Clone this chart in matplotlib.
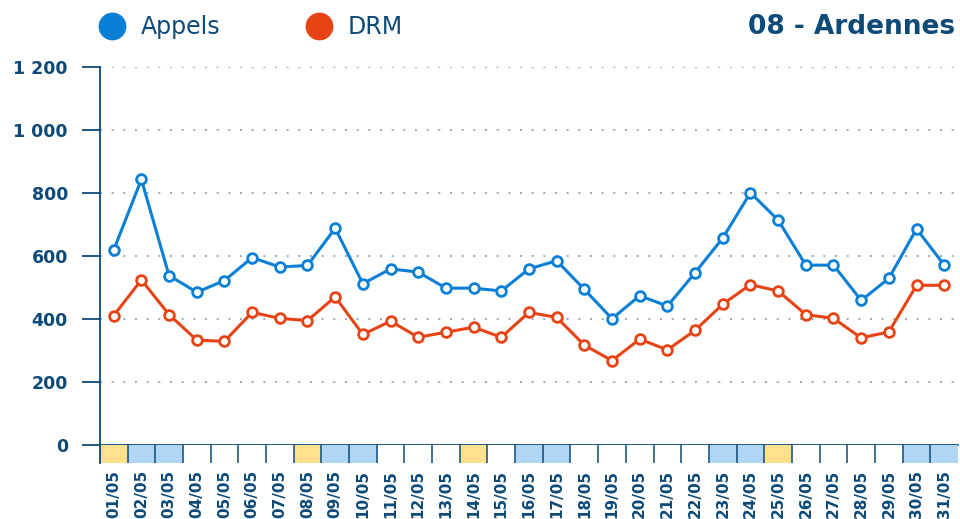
import matplotlib.pyplot as plt
from matplotlib.lines import Line2D

# Données
jours = ['01/05', '02/05', '03/05', '04/05', '05/05', '06/05', '07/05', '08/05', '09/05', '10/05',
         '11/05', '12/05', '13/05', '14/05', '15/05', '16/05', '17/05', '18/05', '19/05', '20/05',
         '21/05', '22/05', '23/05', '24/05', '25/05', '26/05', '27/05', '28/05', '29/05', '30/05', '31/05']
appels = [619, 843, 538, 485, 522, 595, 565, 570, 688, 512,
          559, 549, 498, 498, 489, 559, 585, 494, 401, 474,
          441, 547, 657, 801, 714, 571, 571, 459, 529, 686, 571]
drm = [411, 524, 414, 333, 329, 421, 402, 395, 470, 351,
       393, 342, 358, 374, 342, 421, 405, 317, 268, 336,
       302, 364, 447, 509, 489, 414, 402, 340, 359, 507, 507]
# type de jour : 'f' = férié, 'w' = week-end, '' = normal
type_jour = ['f', 'w', 'w', '', '', '', '', 'f', 'w', 'w',
             '', '', '', 'f', '', 'w', 'w', '', '', '',
             '', '', 'w', 'w', 'f', '', '', '', '', 'w', 'w']
yticks = [0, 200, 400, 600, 800, 1000, 1200]

navy = '#0d4a78'
bleu = '#0a7fd6'
orange = '#e84315'
couleurs_jour = {'f': '#ffe08c', 'w': '#b0d5f5', '': 'white'}

plt.rcParams['font.family'] = ['DejaVu Sans']

fig = plt.figure(figsize=(9.6, 5.19), dpi=100)
ax = fig.add_axes([0.104, 1 - 445 / 519, 0.894, (445 - 67) / 519])

x = list(range(len(jours)))
ax.plot(x, appels, color=bleu, lw=2.2, marker='o', ms=7, mfc='white', mec=bleu, mew=2, zorder=3)
ax.plot(x, drm, color=orange, lw=2.2, marker='o', ms=7, mfc='white', mec=orange, mew=2, zorder=3)

ax.set_xlim(-0.5, len(jours) - 0.5)
ax.set_ylim(0, 1200)
ax.set_xticks([])
ax.set_yticks(yticks)
ax.set_yticklabels([f'{v:,}'.replace(',', ' ') for v in yticks])
ax.tick_params(axis='y', length=13, width=1.3, color=navy, labelcolor=navy, labelsize=12.5, pad=10)
for lab in ax.get_yticklabels():
    lab.set_fontweight('bold')
for v in yticks[1:]:
    ax.axhline(v, color='#93abc2', lw=1.4, linestyle=(0, (1, 5)), zorder=1)
for s in ['top', 'right']:
    ax.spines[s].set_visible(False)
ax.spines['left'].set_color(navy)
ax.spines['left'].set_linewidth(1.3)
ax.spines['bottom'].set_color(navy)
ax.spines['bottom'].set_linewidth(1.3)

# Bandeau des jours
ax2 = fig.add_axes([0.104, 1 - 463 / 519, 0.894, 18 / 519])
ax2.bar(x, 1, width=1, color=[couleurs_jour[t] for t in type_jour], linewidth=0)
for i in range(len(jours)):
    ax2.axvline(i - 0.5, color=navy, lw=1.1)
ax2.set_xlim(-0.5, len(jours) - 0.5)
ax2.set_ylim(0, 1)
ax2.set_yticks([])
ax2.set_xticks(x)
ax2.set_xticklabels(jours, rotation=90, fontweight='bold')
ax2.tick_params(axis='x', length=0, labelcolor=navy, labelsize=11, pad=5)
for s in ax2.spines.values():
    s.set_visible(False)
ax2.spines['left'].set_visible(True)
ax2.spines['left'].set_color(navy)
ax2.spines['left'].set_linewidth(1.3)

# Légende et titre
handles = [Line2D([], [], marker='o', ls='', ms=19, color=bleu),
           Line2D([], [], marker='o', ls='', ms=19, color=orange)]
fig.legend(handles, ['Appels', 'DRM'], loc='center left', bbox_to_anchor=(0.08, 0.948),
           ncol=2, frameon=False, fontsize=17, handletextpad=0.6, columnspacing=3.6,
           labelcolor=navy, handlelength=1.2)
fig.text(0.995, 0.948, '08 - Ardennes', ha='right', va='center', fontsize=19,
         fontweight='bold', color=navy)

fig.savefig('out.png', dpi=100)
